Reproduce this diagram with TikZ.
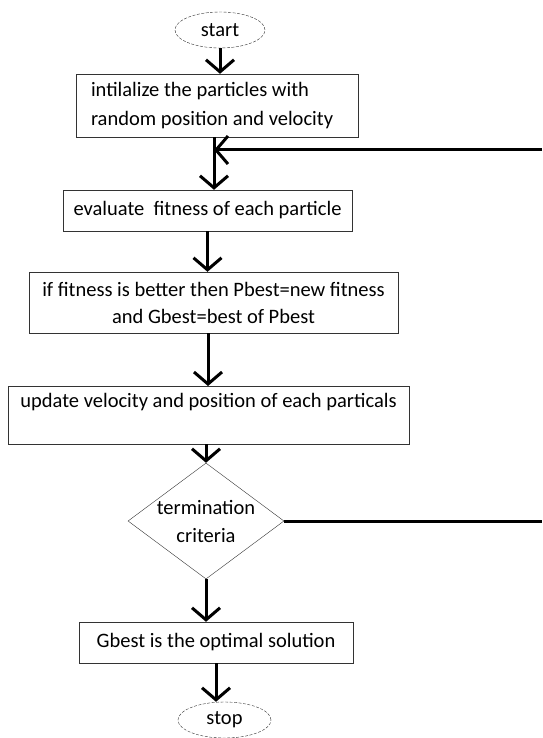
\documentclass[tikz,border=0pt]{standalone}
\usepackage{fontspec}
\setmainfont{Carlito}
\usetikzlibrary{arrows.meta, shapes.geometric}
\tikzset{
    terminal/.style={ellipse, draw=black!80, thin, dash pattern=on 3pt off 1.5pt,
                     minimum width=90pt, minimum height=36pt, inner sep=0pt},
    procbox/.style={rectangle, draw=black!80, thin, inner sep=0pt, align=center},
    decision/.style={diamond, draw=black!80, thin, inner sep=0pt, align=center,
                     aspect=1.35, minimum width=156pt, minimum height=116pt},
    flowedge/.style={-{Straight Barb[length=12pt, width=28pt]}, line width=3pt},
    loopedge/.style={-, line width=3pt},
}

\begin{document}
\begin{tikzpicture}[x=1pt, y=-1pt, font=\fontsize{20.5}{29}\selectfont]
    \useasboundingbox (0,0) rectangle (542,738);
    \node[terminal] (start) at (220,30) {start};
    \node[procbox, minimum width=282pt, minimum height=63pt,
          text width=252pt, align=flush left] (init) at (217,105.5)
          {intilalize the particles with\\random position and velocity};
    \node[procbox, minimum width=289pt, minimum height=41pt] (eval) at (207.5,210.5)
          {evaluate\ \ fitness of each particle};
    \node[procbox, minimum width=369pt, minimum height=61pt,
          font=\fontsize{20.5}{27}\selectfont] (best) at (213.5,302.5)
          {if fitness is better then Pbest=new fitness\\and Gbest=best of Pbest};
    \node[procbox, minimum width=401pt, minimum height=58pt] (upd) at (208.5,415)
          {update velocity and position of each particals\\~};
    \node[decision, font=\fontsize{20.5}{28}\selectfont] (term) at (206,521)
          {termination\\criteria};
    \node[procbox, minimum width=274pt, minimum height=41pt] (sol) at (216,642.5)
          {Gbest is the optimal solution};
    \node[terminal, minimum width=93pt] (stop) at (224.5,720) {stop};
    % loop-back points on the right edge
    \coordinate (jn) at (214,150);
    \coordinate (backin) at (542,150);
    \coordinate (backout) at (542,521);
    % main flow
    \draw[flowedge] (start.south) -- (start.south |- init.north);
    \draw[flowedge] (init.south -| jn) -- (jn |- eval.north);
    \draw[flowedge] (eval.south) -- (eval.south |- best.north);
    \draw[flowedge] (208,333) -- (208,386);
    \draw[flowedge] (upd.south -| term.north) -- (term.north);
    \draw[flowedge] (term.south) -- (term.south |- sol.north);
    \draw[flowedge] (sol.south) -- (sol.south |- stop.north);
    % loop back
    \draw[loopedge] (term.east) -- (backout);
    \draw[flowedge] (backin) -- (jn);
\end{tikzpicture}
\end{document}
